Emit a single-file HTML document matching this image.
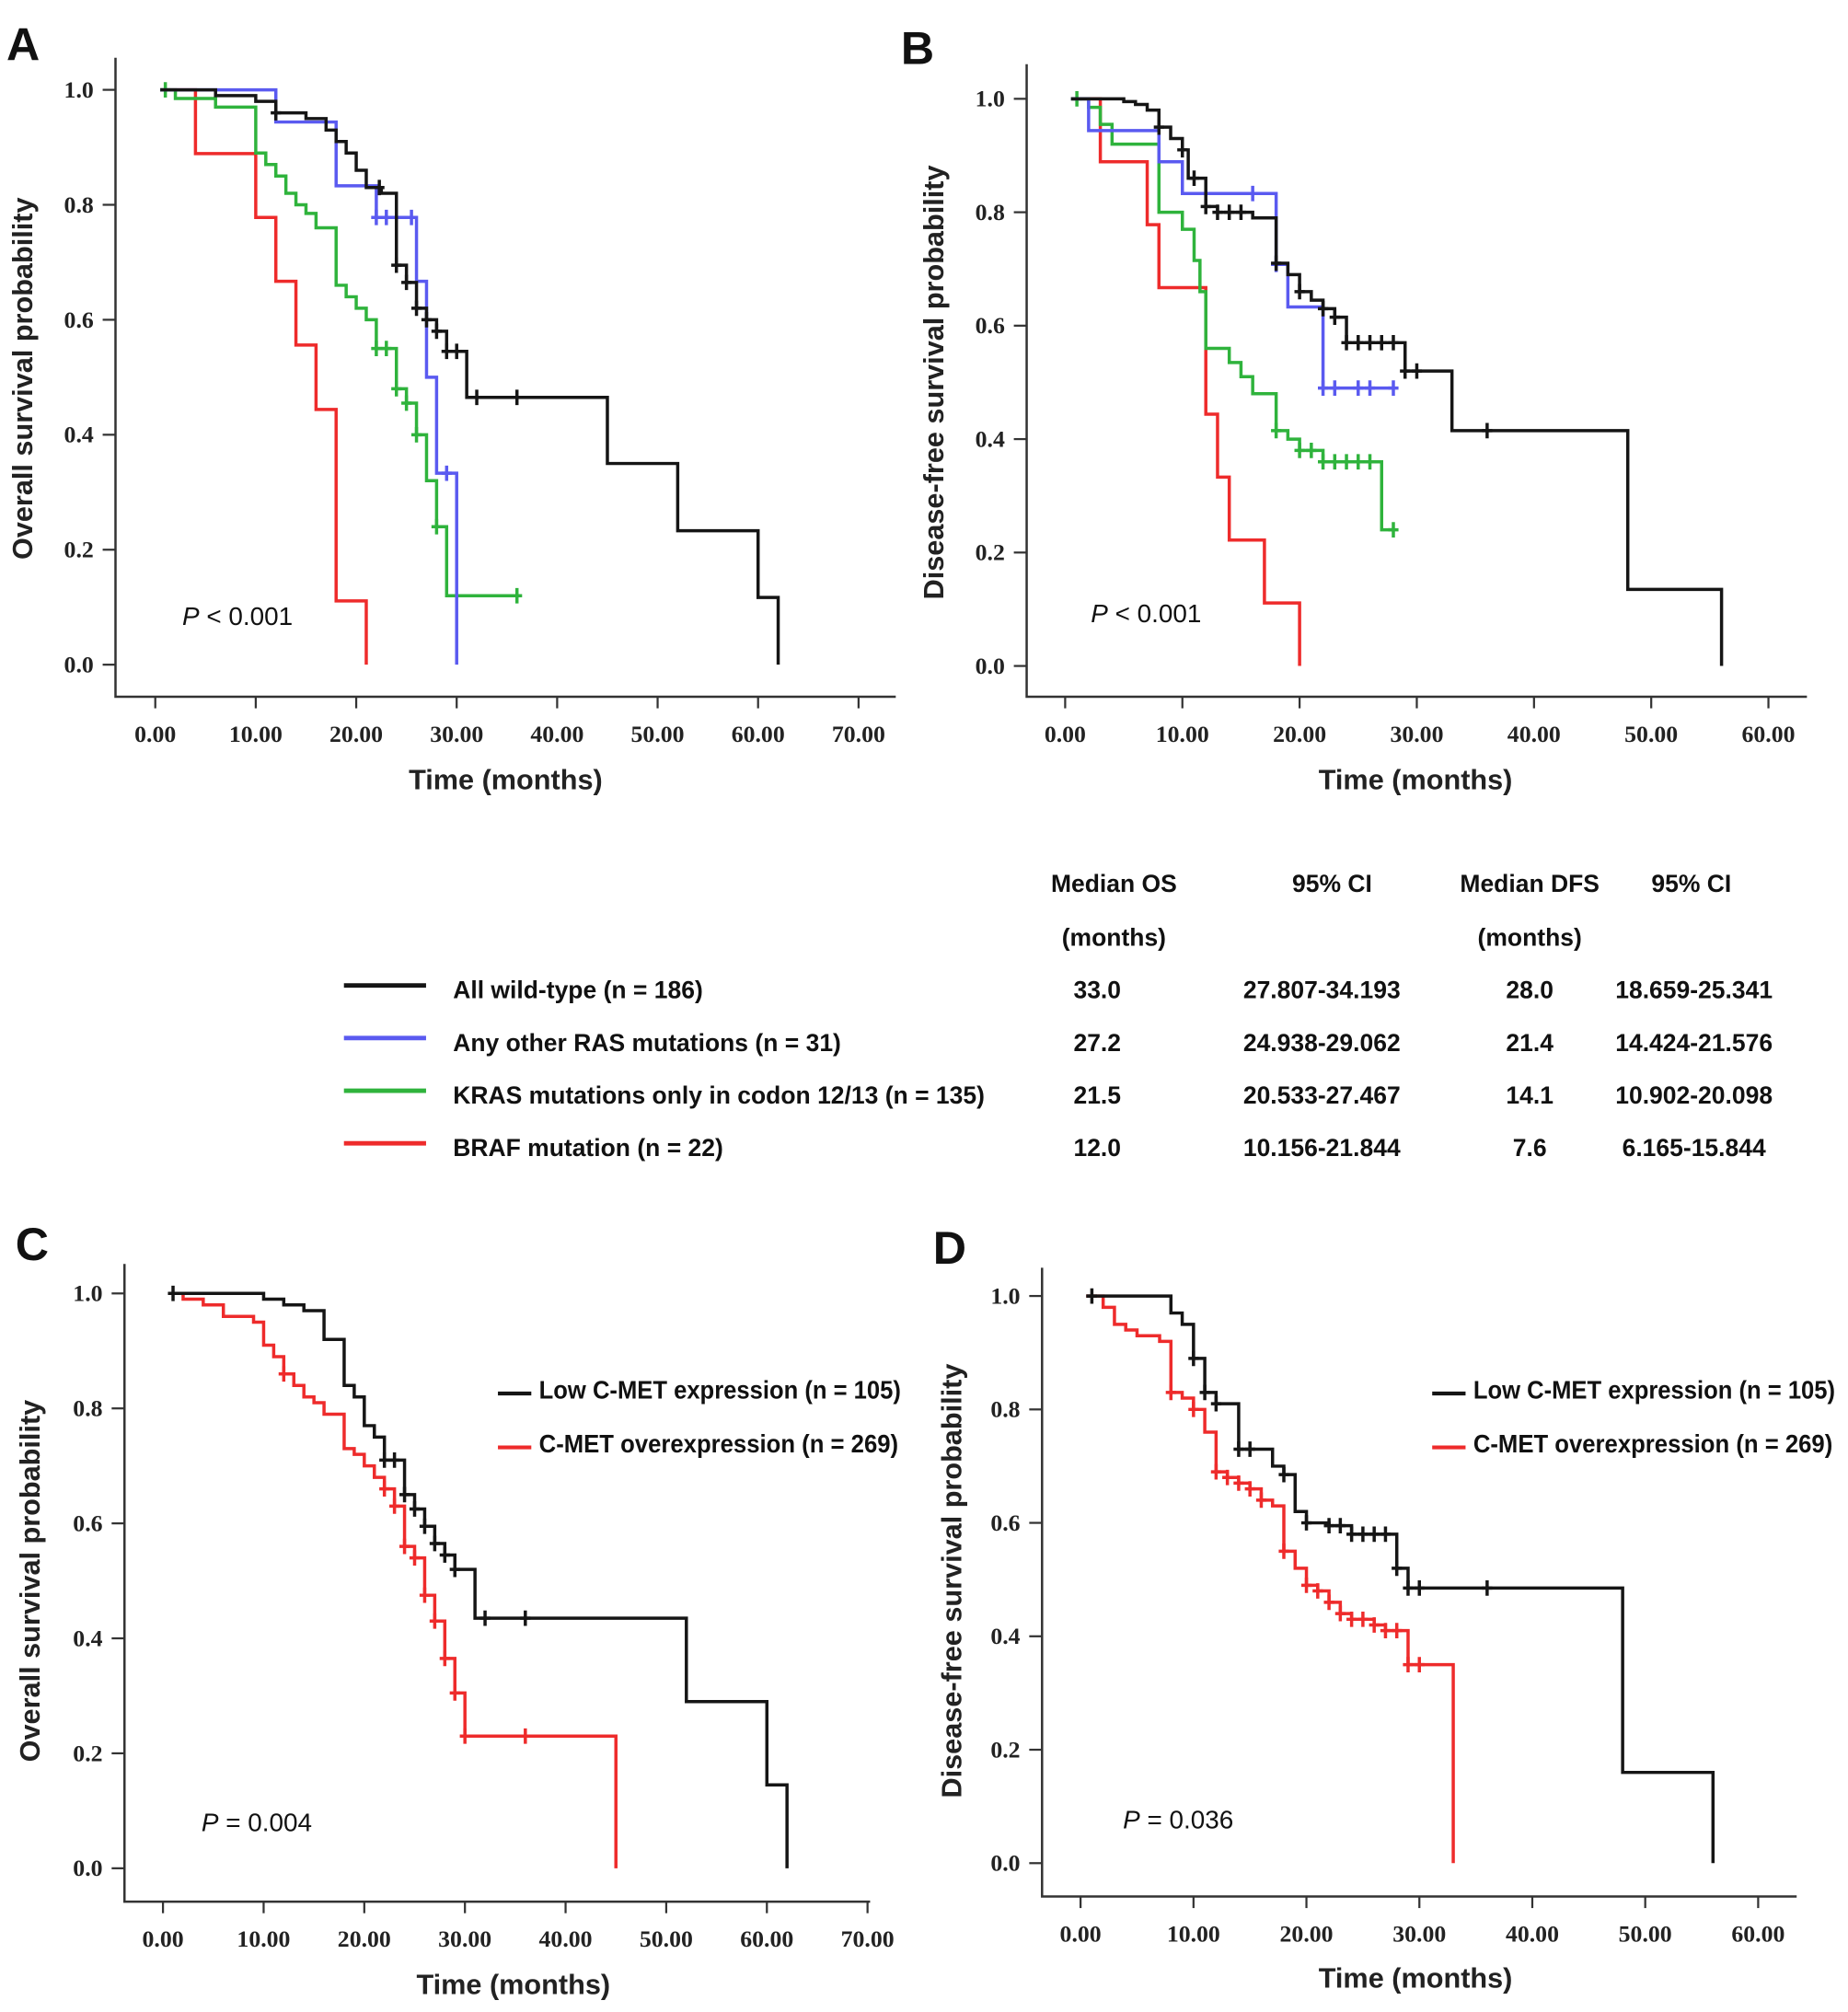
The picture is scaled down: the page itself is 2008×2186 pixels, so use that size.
<!DOCTYPE html>
<html><head><meta charset="utf-8"><style>
html,body{margin:0;padding:0;background:#fff;}
svg{display:block;}
.tick{font-family:"Liberation Serif",serif;font-weight:bold;font-size:18.5px;fill:#222;}
.atitle{font-family:"Liberation Sans",sans-serif;font-weight:bold;font-size:22px;fill:#222;}
.letter{font-family:"Liberation Sans",sans-serif;font-weight:bold;font-size:36px;fill:#111;}
.ptxt{font-family:"Liberation Sans",sans-serif;font-size:20px;fill:#111;}
.tbl{font-family:"Liberation Sans",sans-serif;font-weight:bold;font-size:19px;fill:#111;}
.leg{font-family:"Liberation Sans",sans-serif;font-weight:bold;font-size:20px;fill:#111;}
</style></head><body>
<svg id="fig" width="2008" height="2186" viewBox="0 0 1440 1568" preserveAspectRatio="none" xmlns="http://www.w3.org/2000/svg">
<g>
<text class="letter" x="5" y="47">A</text>
<text class="letter" x="702" y="50">B</text>
<text class="letter" x="12" y="982">C</text>
<text class="letter" x="727" y="985">D</text>
</g>
<g>
<text class="tbl" x="868" y="695" text-anchor="middle">Median OS</text>
<text class="tbl" x="868" y="737" text-anchor="middle">(months)</text>
<text class="tbl" x="1038" y="695" text-anchor="middle">95% CI</text>
<text class="tbl" x="1192" y="695" text-anchor="middle">Median DFS</text>
<text class="tbl" x="1192" y="737" text-anchor="middle">(months)</text>
<text class="tbl" x="1318" y="695" text-anchor="middle">95% CI</text>
</g>
<g id="tableRows"></g>
</svg>
<script>
// ---------- Panel A data (OS) ----------
var aBlackT=[0.5,6,10,12,15,17,18,19,20,21,22.5,24,25,26,27,28,29,31,45,52,60,62];
var aBlackS=[1,0.99,0.98,0.96,0.95,0.93,0.91,0.89,0.86,0.83,0.82,0.695,0.665,0.62,0.60,0.58,0.545,0.465,0.35,0.233,0.117,0];
var aBlackC=[12,22.3,24,25,26,27,28,29,30,32,36];
var aBlueT=[0.5,12,18,22,26,27,28,30];
var aBlueS=[1,0.944,0.833,0.778,0.667,0.5,0.333,0];
var aBlueC=[22,23,25.5,29];
var aGreenT=[0.5,2,6,10,11,12,13,14,15,16,18,19,20,21,22,24,25,26,27,28,29];
var aGreenS=[1,0.985,0.97,0.89,0.87,0.85,0.82,0.80,0.785,0.76,0.66,0.64,0.62,0.60,0.55,0.48,0.455,0.40,0.32,0.24,0.12];
var aGreenC=[1,22,23,24,25,26,28,36];
var aRedT=[0.5,4,10,12,14,16,18,21];
var aRedS=[1,0.889,0.778,0.667,0.556,0.444,0.111,0];
var aRedC=[];
// ---------- Panel B data (DFS) ----------
var bBlackT=[0.5,5,6,7,8,9,10,10.5,12,13,16,18,19,20,21,22,23,24,29,33,48,56];
var bBlackS=[1,0.995,0.99,0.98,0.95,0.93,0.91,0.86,0.81,0.80,0.79,0.71,0.69,0.66,0.645,0.63,0.615,0.57,0.52,0.415,0.135,0];
var bBlackC=[8,10,11,12,13,14,15,18,20,22,23,24,25,26,27,28,29,30,36];
var bBlueT=[0.5,2,8,10,18,19,22];
var bBlueS=[1,0.944,0.889,0.833,0.708,0.633,0.49];
var bBlueC=[16,18,22,23,25,26,28];
var bGreenT=[0.5,2,3,4,8,10,11,11.5,12,14,15,16,18,19,20,22,27];
var bGreenS=[1,0.985,0.955,0.92,0.80,0.77,0.715,0.66,0.56,0.535,0.51,0.48,0.415,0.40,0.38,0.36,0.24];
var bGreenC=[1,18,20,21,22,23,24,25,26,28];
var bRedT=[0.5,3,7,8,12,13,14,17,20];
var bRedS=[1,0.889,0.778,0.667,0.444,0.333,0.222,0.111,0];
var bRedC=[];
var bEnds={blue:28,green:28};
// ---------- Panel C data (OS by C-MET) ----------
var cBlackT=[0.5,10,12,14,16,18,19,20,21,22,24,25,26,27,28,29,31,52,60,62];
var cBlackS=[1,0.99,0.98,0.97,0.92,0.84,0.82,0.77,0.75,0.71,0.65,0.625,0.595,0.565,0.545,0.52,0.435,0.29,0.145,0];
var cBlackC=[1,22,23,24,25,26,27,28,29,32,36];
var cRedT=[0.5,2,4,6,9,10,11,12,13,14,15,16,18,19,20,21,22,23,24,25,26,27,28,29,30,45];
var cRedS=[1,0.99,0.98,0.96,0.95,0.91,0.89,0.86,0.84,0.82,0.81,0.79,0.73,0.72,0.70,0.68,0.66,0.63,0.56,0.54,0.475,0.43,0.365,0.305,0.23,0];
var cRedC=[12,22,23,24,25,26,27,28,29,30,36];
// ---------- Panel D data (DFS by C-MET) ----------
var dBlackT=[0.5,7.5,8,9,10,11,12,14,17,18,19,20,22,24,28,29,48,56];
var dBlackS=[1,1,0.97,0.95,0.89,0.83,0.81,0.73,0.70,0.685,0.62,0.60,0.595,0.58,0.52,0.485,0.16,0];
var dBlackC=[1,10,11,12,14,15,18,20,22,23,24,25,26,27,28,29,30,36];
var dRedT=[0.5,2,3,4,5,7,8,9,10,11,12,13,14,15,16,17,18,19,20,21,22,23,24,26,27,29,33];
var dRedS=[1,0.98,0.95,0.94,0.93,0.92,0.83,0.82,0.80,0.76,0.69,0.68,0.67,0.66,0.64,0.63,0.55,0.52,0.49,0.48,0.46,0.44,0.43,0.42,0.41,0.35,0];
var dRedC=[8,10,12,13,14,15,16,18,20,21,22,23,24,25,26,27,28,29,30];
// ---------- Axis ticks ----------
var yTicks=[0,0.2,0.4,0.6,0.8,1.0];
var yTickLabels=["0.0","0.2","0.4","0.6","0.8","1.0"];
var xTicks70=[0,10,20,30,40,50,60,70];
var xTicks60=[0,10,20,30,40,50,60];
// ---------- Table ----------
var groupNames=["All wild-type (n = 186)","Any other RAS mutations (n = 31)","KRAS mutations only in codon 12/13 (n = 135)","BRAF mutation (n = 22)"];
var medianOS=["33.0","27.2","21.5","12.0"];
var ciOS=["27.807-34.193","24.938-29.062","20.533-27.467","10.156-21.844"];
var medianDFS=["28.0","21.4","14.1","7.6"];
var ciDFS=["18.659-25.341","14.424-21.576","10.902-20.098","6.165-15.844"];

var NS="http://www.w3.org/2000/svg";
var svg=document.getElementById('fig');
var COL={black:"#151515",blue:"#5a5af0",green:"#2fb33c",red:"#ee2b2b"};
function mk(tag,attrs,parent){var e=document.createElementNS(NS,tag);for(var k in attrs)e.setAttribute(k,attrs[k]);(parent||svg).appendChild(e);return e;}

function panel(cfg){
  var g=mk('g',{});
  
  
  var sx=function(t){return cfg.x0+(t-0)*(cfg.x1-cfg.x0)/cfg.xmax;};
  var sy=function(v){return cfg.y0+(cfg.y1-cfg.y0)*v;};
  var ax=mk('path',{d:'M'+cfg.ax+' '+cfg.top+' V'+cfg.ay+' H'+cfg.right,stroke:'#333','stroke-width':1.8,fill:'none'},g);
  
  
  yTicks.forEach(function(v,i){
    var y=sy(v);
    var tk=mk('line',{x1:cfg.ax-10,x2:cfg.ax,y1:y,y2:y,stroke:'#333','stroke-width':1.6},g);
    
    
    var tl=mk('text',{x:cfg.ax-17,y:y+6,'text-anchor':'end','class':'tick'},g);
    tl.textContent=yTickLabels[i];
    
    
  });
  cfg.xt.forEach(function(t){
    var x=sx(t);
    var tk=mk('line',{x1:x,x2:x,y1:cfg.ay,y2:cfg.ay+9,stroke:'#333','stroke-width':1.6},g);
    
    
    var tl=mk('text',{x:x,y:cfg.ay+35,'text-anchor':'middle','class':'tick'},g);
    tl.textContent=t.toFixed(2);
    
    
  });
  var xt=mk('text',{x:cfg.xlx,y:cfg.xly,'text-anchor':'middle','class':'atitle'},g);
  xt.textContent='Time (months)';
  
  
  var yt=mk('text',{x:0,y:0,'text-anchor':'middle','class':'atitle',transform:'translate('+cfg.ylx+','+cfg.yly+') rotate(-90)'},g);
  yt.textContent=cfg.ylabel;
  
  
  var pt=mk('text',{x:cfg.px,y:cfg.py,'class':'ptxt'},g);
  pt.innerHTML='<tspan font-style="italic">P</tspan> '+cfg.ptext;
  
  
  cfg.series.forEach(function(s){
    var T=s.t,S=s.s;
    var d='M'+sx(T[0])+' '+sy(S[0]);
    for(var i=1;i<T.length;i++){d+=' H'+sx(T[i])+' V'+sy(S[i]);}
    var end=s.end!=null?s.end:T[T.length-1];
    if(end>T[T.length-1]) d+=' H'+sx(end);
    var p=mk('path',{d:d,stroke:COL[s.c],'stroke-width':2.5,fill:'none'},g);
    
    
    s.cens.forEach(function(ct){
      var v=S[0];for(var i=0;i<T.length;i++){if(T[i]<=ct)v=S[i];}
      var x=sx(ct),y=sy(v);
      var m=mk('path',{d:'M'+x+' '+(y-6)+' V'+(y+6)+' M'+(x-4)+' '+y+' H'+(x+4),stroke:COL[s.c],'stroke-width':2.5},g);
      
      
    });
  });
  if(cfg.legend){
    var lg=mk('g',{},g);
    
    
    cfg.legend.forEach(function(L,i){
      var y=cfg.legY+i*42;
      var ln=mk('line',{x1:cfg.legX,x2:cfg.legX+26,y1:y+4,y2:y+4,stroke:COL[L.c],'stroke-width':3},lg);
      
      
      var tx=mk('text',{x:cfg.legX+32,y:y+8,'class':'leg',textLength:L.w,lengthAdjust:'spacingAndGlyphs'},lg);
      tx.textContent=L.label;
      
      
    });
  }
}

panel({name:'panel-a-os',x0:121,x1:669,xmax:70,y0:518,y1:70,ax:90,ay:543,top:45,right:698,xt:xTicks70,
  xlx:394,xly:615,ylx:25,yly:295,ylabel:'Overall survival probability',px:142,py:487,ptext:'&lt; 0.001',
  series:[{t:aRedT,s:aRedS,cens:aRedC,c:'red',name:'braf-curve-a'},{t:aGreenT,s:aGreenS,cens:aGreenC,c:'green',name:'kras-curve-a',end:36},
          {t:aBlueT,s:aBlueS,cens:aBlueC,c:'blue',name:'ras-curve-a'},{t:aBlackT,s:aBlackS,cens:aBlackC,c:'black',name:'wildtype-curve-a'}]});
panel({name:'panel-b-dfs',x0:830,x1:1378,xmax:60,y0:519,y1:77,ax:800,ay:543,top:50,right:1408,xt:xTicks60,
  xlx:1103,xly:615,ylx:735,yly:298,ylabel:'Disease-free survival probability',px:850,py:485,ptext:'&lt; 0.001',
  series:[{t:bRedT,s:bRedS,cens:bRedC,c:'red',name:'braf-curve-b'},{t:bGreenT,s:bGreenS,cens:bGreenC,c:'green',name:'kras-curve-b',end:bEnds.green},
          {t:bBlueT,s:bBlueS,cens:bBlueC,c:'blue',name:'ras-curve-b',end:bEnds.blue},{t:bBlackT,s:bBlackS,cens:bBlackC,c:'black',name:'wildtype-curve-b'}]});
panel({name:'panel-c-os-cmet',x0:127,x1:676,xmax:70,y0:1456,y1:1008,ax:97,ay:1482,top:985,right:678,xt:xTicks70,
  xlx:400,xly:1554,ylx:31,yly:1232,ylabel:'Overall survival probability',px:157,py:1427,ptext:'= 0.004',
  series:[{t:cRedT,s:cRedS,cens:cRedC,c:'red',name:'cmet-over-curve-c'},{t:cBlackT,s:cBlackS,cens:cBlackC,c:'black',name:'cmet-low-curve-c'}],
  legX:388,legY:1082,legend:[{c:'black',label:'Low C-MET expression (n = 105)',w:282},{c:'red',label:'C-MET overexpression (n = 269)',w:280}]});
panel({name:'panel-d-dfs-cmet',x0:842,x1:1370,xmax:60,y0:1452,y1:1010,ax:812,ay:1478,top:988,right:1400,xt:xTicks60,
  xlx:1103,xly:1549,ylx:749,yly:1232,ylabel:'Disease-free survival probability',px:875,py:1425,ptext:'= 0.036',
  series:[{t:dRedT,s:dRedS,cens:dRedC,c:'red',name:'cmet-over-curve-d'},{t:dBlackT,s:dBlackS,cens:dBlackC,c:'black',name:'cmet-low-curve-d'}],
  legX:1116,legY:1082,legend:[{c:'black',label:'Low C-MET expression (n = 105)',w:282},{c:'red',label:'C-MET overexpression (n = 269)',w:280}]});

var rows=document.getElementById('tableRows');
var rowCols=['black','blue','green','red'];
groupNames.forEach(function(nm,i){
  var y=778+i*41;
  var ln=mk('line',{x1:268,x2:332,y1:y-10,y2:y-10,stroke:COL[rowCols[i]],'stroke-width':3.5},rows);
  
  
  var cells=[[353,nm,'start'],[855,medianOS[i],'middle'],[1030,ciOS[i],'middle'],[1192,medianDFS[i],'middle'],[1320,ciDFS[i],'middle']];
  cells.forEach(function(c,j){
    var t=mk('text',{x:c[0],y:y,'text-anchor':c[2],'class':'tbl'},rows);
    t.textContent=c[1];
    
    
  });
});
</script>
</body></html>
